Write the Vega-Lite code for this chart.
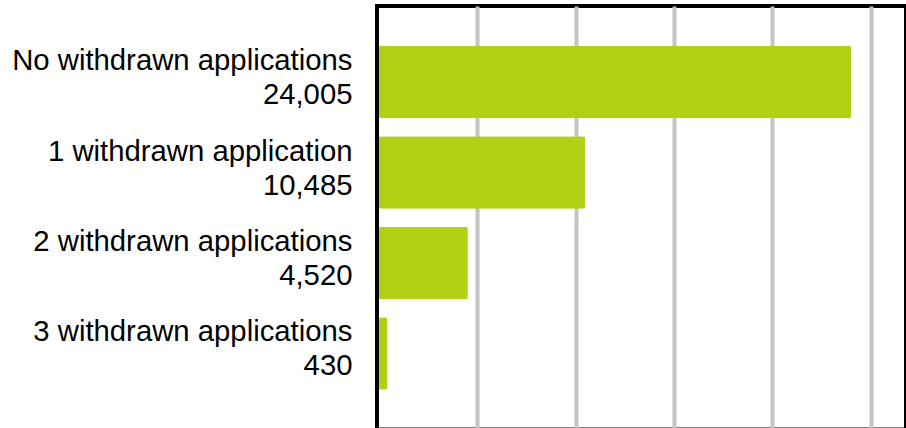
{
  "$schema": "https://vega.github.io/schema/vega-lite/v6.json",
  "autosize": "none",
  "padding": {"left": 377, "top": 6, "right": 0, "bottom": 0},
  "width": 529,
  "height": 423.5,
  "background": "white",
  "config": {
    "view": {"stroke": "black", "strokeWidth": 4},
    "font": "Liberation Sans"
  },
  "data": {
    "values": [
      {"group": "No withdrawn applications\n24,005", "count": 24005},
      {"group": "1 withdrawn application\n10,485", "count": 10485},
      {"group": "2 withdrawn applications\n4,520", "count": 4520},
      {"group": "3 withdrawn applications\n430", "count": 430}
    ]
  },
  "mark": {"type": "bar", "color": "#b3d114", "cornerRadius": 2},
  "encoding": {
    "y": {
      "field": "group",
      "type": "nominal",
      "sort": null,
      "scale": {"paddingInner": 0.2, "paddingOuter": 0.44},
      "axis": {
        "title": null,
        "domain": false,
        "ticks": false,
        "labelPadding": 25,
        "labelFontSize": 29.3,
        "labelFont": "Liberation Sans",
        "labelColor": "black",
        "labelLineHeight": 34,
        "labelOffset": -21,
        "labelLimit": 400,
        "labelExpr": "split(datum.label, '\\n')"
      }
    },
    "x": {
      "field": "count",
      "type": "quantitative",
      "scale": {"domain": [0, 26800], "range": [2, 529], "nice": false},
      "axis": {
        "title": null,
        "orient": "top",
        "domain": false,
        "ticks": false,
        "labels": false,
        "grid": true,
        "gridColor": "#c4c4c4",
        "gridWidth": 4,
        "values": [5000, 10000, 15000, 20000, 25000]
      }
    }
  }
}
